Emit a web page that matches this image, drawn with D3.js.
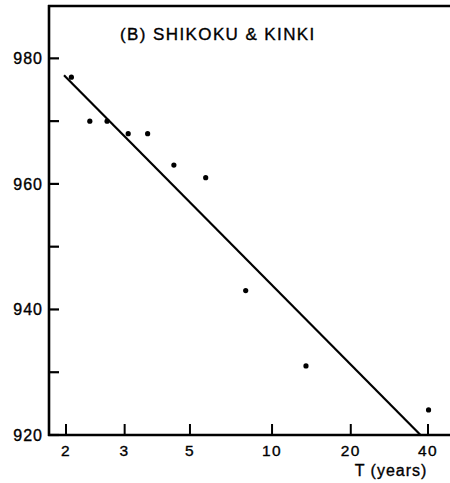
<!DOCTYPE html>
<html>
<head>
<meta charset="utf-8">
<script src="https://cdn.jsdelivr.net/npm/d3@7"></script>
<style>
  html, body { margin: 0; padding: 0; background: #fff; }
  svg { display: block; font-family: "Liberation Sans", Arial, Helvetica, sans-serif; }
  text { fill: #000; stroke: #000; stroke-width: 0.35px; }
</style>
</head>
<body>
<svg id="chart" width="450" height="483"></svg>
<script>
// Return period T (years) and observed values
const returnPeriods = [2.07, 2.34, 2.64, 3.08, 3.57, 4.39, 5.69, 7.97, 13.45, 40.2];
const observed      = [977, 970, 970, 968, 968, 963, 961, 943, 931, 924];

// Fitted line, given by its two end points
const fitT     = [1.975, 37.4];
const fitValue = [977.3, 920];

// Axis ticks
const xTicks = [2, 3, 5, 10, 20, 40];
const yMajorTicks = [920, 940, 960, 980];
const yMinorTicks = [930, 950, 970];

const title = "(B) SHIKOKU & KINKI";
const xTitle = "T (years)";

// Gumbel reduced variate for a return period
const reduced = T => -Math.log(-Math.log(1 - 1 / T));

const svg = d3.select("#chart");
const plotLeft = 49, plotRight = 450, plotTop = 5, plotBottom = 435;

const x = d3.scaleLinear()
  .domain([reduced(2), reduced(40)])
  .range([66, 428]);
const y = d3.scaleLinear()
  .domain([920, 988.5])
  .range([plotBottom, plotTop]);

const ink = "#000";

// Frame: left axis, top border, bottom axis
svg.append("line").attr("x1", plotLeft).attr("x2", plotLeft).attr("y1", plotTop).attr("y2", plotBottom + 1)
  .attr("stroke", ink).attr("stroke-width", 2.6);
svg.append("line").attr("x1", plotLeft - 1).attr("x2", plotRight).attr("y1", plotTop + 1).attr("y2", plotTop + 1)
  .attr("stroke", ink).attr("stroke-width", 2.4);
svg.append("line").attr("x1", plotLeft - 1).attr("x2", plotRight).attr("y1", plotBottom).attr("y2", plotBottom)
  .attr("stroke", ink).attr("stroke-width", 2.6);

// Y ticks (pointing inward)
svg.selectAll(".ytick").data(yMajorTicks.concat(yMinorTicks)).join("line")
  .attr("class", "ytick")
  .attr("x1", plotLeft).attr("x2", plotLeft + 10)
  .attr("y1", d => y(d)).attr("y2", d => y(d))
  .attr("stroke", ink).attr("stroke-width", 2.2);

svg.selectAll(".ylabel").data(yMajorTicks).join("text")
  .attr("class", "ylabel")
  .attr("x", 43).attr("y", d => y(d))
  .attr("dy", "0.36em")
  .attr("text-anchor", "end")
  .attr("font-size", 16)
  .attr("letter-spacing", 1)
  .text(d => d);

// X ticks (pointing inward)
svg.selectAll(".xtick").data(xTicks).join("line")
  .attr("class", "xtick")
  .attr("x1", d => x(reduced(d))).attr("x2", d => x(reduced(d)))
  .attr("y1", plotBottom).attr("y2", plotBottom - 11)
  .attr("stroke", ink).attr("stroke-width", 2);

svg.selectAll(".xlabel").data(xTicks).join("text")
  .attr("class", "xlabel")
  .attr("x", d => x(reduced(d))).attr("y", 456)
  .attr("text-anchor", "middle")
  .attr("font-size", 15.5)
  .attr("letter-spacing", 1.5)
  .text(d => d);

svg.append("text")
  .attr("x", 391).attr("y", 476)
  .attr("text-anchor", "middle")
  .attr("font-size", 16)
  .attr("letter-spacing", 1)
  .text(xTitle);

// Panel title
svg.append("text")
  .attr("x", 120).attr("y", 40)
  .attr("font-size", 17)
  .attr("letter-spacing", 1.4)
  .text(title);

// Fitted line
svg.append("line")
  .attr("x1", x(reduced(fitT[0]))).attr("y1", y(fitValue[0]))
  .attr("x2", x(reduced(fitT[1]))).attr("y2", y(fitValue[1]))
  .attr("stroke", ink).attr("stroke-width", 2.2);

// Observations
svg.selectAll(".pt").data(returnPeriods.map((t, i) => [t, observed[i]])).join("circle")
  .attr("class", "pt")
  .attr("cx", d => x(reduced(d[0])))
  .attr("cy", d => y(d[1]))
  .attr("r", 2.6)
  .attr("fill", ink);
</script>
</body>
</html>
